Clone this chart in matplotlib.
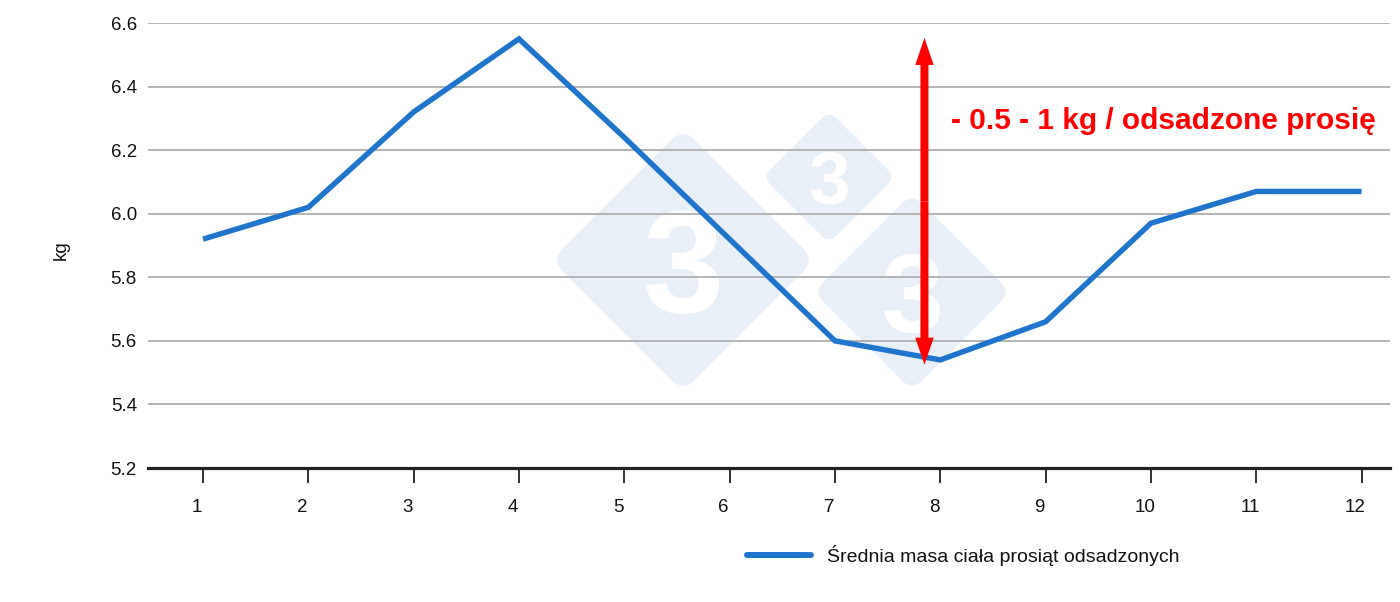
import matplotlib
matplotlib.use("Agg")
import matplotlib.pyplot as plt
import matplotlib.transforms as mtransforms
from matplotlib.patches import FancyBboxPatch, FancyArrow

plt.rcParams['font.family'] = ['Liberation Sans', 'DejaVu Sans']

# data
weeks = [1, 2, 3, 4, 5, 6, 7, 8, 9, 10, 11, 12]
weight = [5.92, 6.02, 6.32, 6.55, 6.24, 5.92, 5.60, 5.54, 5.66, 5.97, 6.07, 6.07]
series_label = "Średnia masa ciała prosiąt odsadzonych"
y_ticks = [5.2, 5.4, 5.6, 5.8, 6.0, 6.2, 6.4, 6.6]

# arrow annotation
arrow_x = 7.85
arrow_top = 6.553
arrow_bottom = 5.525
note = "- 0.5 - 1 kg / odsadzone prosię"

W, H = 1400, 602
fig = plt.figure(figsize=(W / 100, H / 100), dpi=100)
ax = fig.add_axes([148 / W, 134 / H, (1390 - 148) / W, 445 / H])

line_color = '#1f74cc'
ax.plot(weeks, weight, color=line_color, lw=3.9, solid_joinstyle='miter',
        solid_capstyle='butt', zorder=2)

ax.set_xlim(0.478, 12.27)
ax.set_ylim(5.2, 6.6)
ax.set_yticks(y_ticks)
ax.set_yticklabels([f"{v:.1f}" for v in y_ticks])
ax.set_xticks(weeks)
ax.set_xticklabels([str(w) for w in weeks])

ax.set_axisbelow(True)
ax.yaxis.grid(True, color='#b3b3b3', lw=1.4)
ax.xaxis.grid(False)
for s in ['top', 'right', 'left']:
    ax.spines[s].set_visible(False)
ax.spines['bottom'].set_color('#222222')
ax.spines['bottom'].set_linewidth(2.3)
ax.spines['bottom'].set_zorder(2.5)

ax.tick_params(axis='y', length=0, pad=8, labelsize=13.5, labelcolor='#111111')
ax.tick_params(axis='x', length=11, width=1.3, color='#222222', pad=11,
               labelsize=13.5, labelcolor='#111111')
offset = mtransforms.ScaledTranslation(-0.06, 0, fig.dpi_scale_trans)
for lab in ax.get_xticklabels():
    lab.set_transform(lab.get_transform() + offset)

ax.set_ylabel("kg", fontsize=13.5, color='#111111')
ax.yaxis.set_label_coords(-0.063, 0.49)

# watermark diamonds (pixel coordinates)
wm_color = '#e9eff7'
for cx, cy, half, r, fs in [(683, 260, 125, 16, 105), (829, 177, 62, 10, 54), (912, 292, 93, 13, 80)]:
    s = (half + r * 0.41) * 2 ** 0.5
    tr = mtransforms.Affine2D().rotate_deg(45).translate(cx, H - cy)
    p = FancyBboxPatch((-s / 2, -s / 2), s, s,
                       boxstyle=f"round,pad=0,rounding_size={r}",
                       fc=wm_color, ec='none', transform=tr, zorder=0.1)
    ax.add_patch(p)
    digit_h = 0.716 * fs * 100 / 72
    ax.text(cx / W, 1 - (cy + digit_h / 2) / H, "3", transform=fig.transFigure,
            color='white', fontsize=fs, fontweight='bold', ha='center',
            va='baseline', zorder=0.2)

# double-headed red arrow
mid = (arrow_top + arrow_bottom) / 2
for end in (arrow_top, arrow_bottom):
    ax.add_patch(FancyArrow(arrow_x, mid, 0, end - mid, width=0.076,
                            head_width=0.175, head_length=0.085,
                            length_includes_head=True, color='#ff0000',
                            lw=0, zorder=3))

ax.text(951 / W, 1 - 121 / H, note, transform=fig.transFigure, color='#ff0000',
        fontsize=21.5, fontweight='bold', ha='left', va='center')

fig.legend(handles=ax.get_lines(), labels=[series_label], loc='center left',
           bbox_to_anchor=(737 / W, 1 - 555 / H), frameon=False, fontsize=14,
           handlelength=3.3, handletextpad=0.85, borderpad=0,
           labelcolor='#111111')
for h in fig.legends[0].legend_handles:
    h.set_linewidth(4.3)
    h.set_solid_capstyle('round')

fig.savefig("out.png", dpi=100)
